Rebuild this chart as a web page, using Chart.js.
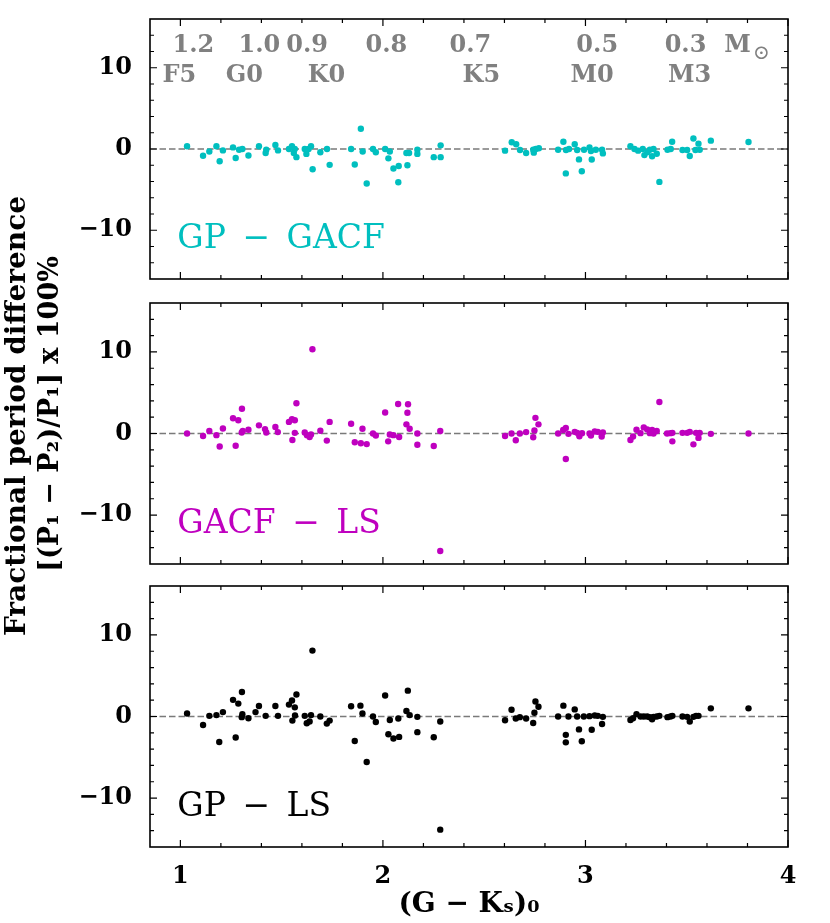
<!DOCTYPE html>
<html>
<head>
<meta charset="utf-8">
<script src="https://cdn.jsdelivr.net/npm/chart.js@4.4.1/dist/chart.umd.min.js"></script>
<style>
html, body { margin: 0; padding: 0; background: #fff; }
#wrap { position: relative; width: 830px; height: 923px; }
#wrap canvas { position: absolute; left: 0; top: 0; }
</style>
</head>
<body>
<div id="wrap">
  <canvas id="p1" width="830" height="923"></canvas>
  <canvas id="p2" width="830" height="923"></canvas>
  <canvas id="p3" width="830" height="923"></canvas>
</div>
<script>
var X_MIN = 0.85, X_MAX = 4.0
var Y_MIN = -16, Y_MAX = 16
var xTicks = [1, 2, 3, 4]
var xMinorTicks = [1.2, 1.4, 1.6, 1.8, 2.2, 2.4, 2.6, 2.8, 3.2, 3.4, 3.6, 3.8]
var yTicks = [-10, 0, 10]
var yMinorTicks = [-14, -12, -8, -6, -4, -2, 2, 4, 6, 8, 12, 14]

// GP - GACF
var gpGacfX = [1.033, 1.112, 1.143, 1.178, 1.194, 1.21, 1.26, 1.273, 1.29, 1.306,
  1.336, 1.388, 1.421, 1.424, 1.469, 1.482, 1.536, 1.551, 1.565, 1.56,
  1.573, 1.614, 1.622, 1.633, 1.645, 1.653, 1.691, 1.724, 1.737, 1.843,
  1.861, 1.891, 1.9, 1.92, 1.951, 1.965, 2.011, 2.027, 2.034, 2.052,
  2.078, 2.076, 2.116, 2.129, 2.121, 2.17, 2.17, 2.251, 2.285, 2.285,
  2.603, 2.636, 2.658, 2.677, 2.707, 2.742, 2.745, 2.755, 2.77, 2.865,
  2.891, 2.904, 2.919, 2.903, 2.947, 2.959, 2.968, 2.982, 2.993, 3.02,
  3.027, 3.031, 3.051, 3.082, 3.086, 3.222, 3.242, 3.26, 3.283, 3.291,
  3.306, 3.318, 3.329, 3.336, 3.352, 3.365, 3.405, 3.421, 3.428, 3.479,
  3.502, 3.515, 3.533, 3.543, 3.558, 3.564, 3.619, 3.805]
var gpGacfY = [0.33, -0.83, -0.3, 0.33, -1.5, -0.17, 0.2, -1.1, -0.1, 0,
  -0.8, 0.33, -0.5, -0.1, 0.5, -0.17, 0, 0.33, 0, -0.5,
  -1.0, 0, -0.6, 0, 0.33, -2.5, -0.4, 0, -1.95, 0,
  -1.9, 2.5, -0.3, -4.25, 0, -0.4, 0, -1.15, -0.3, -2.4,
  -2.1, -4.1, -0.5, -0.5, -2.0, -0.1, -0.6, -1.0, -1.0, 0.45,
  -0.2, 0.83, 0.58, -0.12, -0.5, -0.1, -0.45, 0, 0.1, -0.1,
  0.9, -0.12, 0, -3.0, 0.58, -0.12, -1.28, -2.73, -0.1, 0.2,
  -0.25, -1.3, -0.1, -0.1, -0.54, 0.33, 0, -0.2, 0, -0.75,
  -0.4, -0.1, -0.9, 0, -0.58, -4.05, -0.1, 0, 0.9, -0.12,
  -0.12, -0.87, 1.3, -0.12, 0.66, -0.1, 1.03, 0.87]

// GACF - LS
var gacfLsX = [1.033, 1.112, 1.143, 1.178, 1.194, 1.21, 1.26, 1.273, 1.286, 1.304,
  1.303, 1.308, 1.336, 1.388, 1.418, 1.424, 1.469, 1.481, 1.536, 1.551,
  1.565, 1.553, 1.565, 1.573, 1.614, 1.625, 1.638, 1.645, 1.652, 1.691,
  1.723, 1.737, 1.843, 1.861, 1.891, 1.899, 1.92, 1.951, 1.965, 2.011,
  2.026, 2.034, 2.052, 2.075, 2.08, 2.116, 2.121, 2.124, 2.132, 2.17,
  2.17, 2.251, 2.283, 2.283,
  2.603, 2.635, 2.656, 2.676, 2.707, 2.742, 2.748, 2.753, 2.768, 2.865,
  2.89, 2.903, 2.903, 2.916, 2.947, 2.959, 2.97, 2.983, 3.02, 3.027,
  3.046, 3.061, 3.08, 3.086, 3.222, 3.235, 3.252, 3.272, 3.288, 3.305,
  3.318, 3.329, 3.336, 3.352, 3.365, 3.403, 3.42, 3.429, 3.429, 3.479,
  3.502, 3.515, 3.533, 3.546, 3.558, 3.564, 3.619, 3.805]
var gacfLsY = [0, -0.3, 0.3, -0.2, -1.6, 0.62, 1.87, -1.5, 1.62, 3.04,
  0.12, 0.3, 0.46, 1.0, 0.54, 0.12, 0.8, 0.17, 1.42, 1.75,
  1.62, -0.8, 0.08, 3.7, 0.12, -0.2, -0.42, -0.12, 10.33, 0.33,
  -0.87, 1.42, 1.2, -1.08, -1.2, 0.58, -1.3, 0, -0.25, 2.58,
  -0.96, -0.12, -0.2, 3.62, -0.42, 1.12, 2.54, 3.58, 0.58, 0,
  -1.38, -1.54, 0.3, -14.4,
  -0.3, 0, -0.83, 0, 0.17, -0.46, 0.38, 1.92, 1.12, 0,
  0.42, 0.67, -3.12, -0.04, 0.2, 0.08, -0.33, 0.04, 0, -0.25,
  0.25, 0.2, -0.37, 0.12, -0.8, -0.37, 0.46, 0.04, 0.75, 0.5,
  0.04, 0.42, 0, 0.3, 3.87, 0, 0.04, -0.96, 0.08, 0.08,
  0.08, 0.2, -1.33, 0.08, -0.54, 0.08, -0.04, 0]

// GP - LS
var gpLsX = [1.033, 1.112, 1.143, 1.178, 1.192, 1.21, 1.26, 1.273, 1.286, 1.304,
  1.303, 1.306, 1.336, 1.371, 1.388, 1.421, 1.469, 1.482, 1.536, 1.551,
  1.565, 1.553, 1.566, 1.573, 1.614, 1.624, 1.638, 1.645, 1.652, 1.691,
  1.723, 1.737, 1.843, 1.861, 1.889, 1.899, 1.92, 1.951, 1.965, 2.011,
  2.027, 2.034, 2.052, 2.076, 2.08, 2.116, 2.123, 2.132, 2.17, 2.17,
  2.251, 2.283, 2.283,
  2.603, 2.635, 2.656, 2.676, 2.707, 2.742, 2.748, 2.753, 2.768, 2.865,
  2.891, 2.903, 2.903, 2.916, 2.947, 2.959, 2.968, 2.982, 2.992, 3.02,
  3.031, 3.046, 3.061, 3.082, 3.086, 3.222, 3.235, 3.252, 3.272, 3.288,
  3.305, 3.318, 3.329, 3.336, 3.352, 3.365, 3.405, 3.42, 3.429, 3.479,
  3.502, 3.515, 3.533, 3.546, 3.558, 3.619, 3.805]
var gpLsY = [0.37, -1.04, 0.08, 0.17, -3.12, 0.54, 2.04, -2.58, 1.58, 3.0,
  -0.08, 0.29, -0.21, 0.54, 1.29, 0.08, 1.29, 0.08, 1.46, 1.96,
  1.12, -0.5, 0.12, 2.7, 0.08, -0.83, -0.62, 0.17, 8.08, 0,
  -0.87, -0.5, 1.25, -3.0, 1.33, 0.37, -5.58, 0, -0.67, 2.58,
  -2.17, -0.42, -2.7, -0.25, -2.5, 0.67, 3.17, 0.17, -0.04, -1.92,
  -2.54, -0.62, -13.87,
  -0.46, 0.83, -0.25, -0.08, -0.25, -0.79, 0.46, 1.83, 1.2, 0,
  1.33, -2.25, -3.17, 0, 0.87, 0, -1.58, -3.04, 0, 0.04,
  -1.62, 0.12, 0.08, -0.92, -0.04, -0.42, -0.21, 0.29, 0, 0,
  0, -0.08, -0.33, -0.04, 0, 0.08, -0.08, 0, 0.08, 0,
  -0.04, -0.62, -0.04, 0.08, 0.08, 1.0, 1.0]

// mass and spectral type labels along the top of the first panel
var massLabels = ['1.2', '1.0', '0.9', '0.8', '0.7', '0.5', '0.3', 'M']
var massX = [1.064, 1.39, 1.626, 2.017, 2.432, 3.058, 3.494, 3.751]
var sptLabels = ['F5', 'G0', 'K0', 'K5', 'M0', 'M3']
var sptX = [0.995, 1.316, 1.721, 2.486, 3.033, 3.514]

var FONT = '"DejaVu Serif", serif'
var W = 830, H = 923
var PLOT_LEFT = 150, PLOT_RIGHT = 788

var framePlugin = {
  id: 'frame',
  afterDatasetsDraw: function (chart) {
    var a = chart.chartArea, ctx = chart.ctx
    var sx = chart.scales.x, sy = chart.scales.y
    ctx.save()
    ctx.strokeStyle = '#000'
    ctx.lineWidth = 1.2
    ctx.beginPath()
    function tx(v, len) {
      var p = sx.getPixelForValue(v)
      ctx.moveTo(p, a.bottom); ctx.lineTo(p, a.bottom - len)
      ctx.moveTo(p, a.top); ctx.lineTo(p, a.top + len)
    }
    function ty(v, len) {
      var p = sy.getPixelForValue(v)
      ctx.moveTo(a.left, p); ctx.lineTo(a.left + len, p)
      ctx.moveTo(a.right, p); ctx.lineTo(a.right - len, p)
    }
    xTicks.forEach(function (v) { tx(v, 7) })
    xMinorTicks.forEach(function (v) { tx(v, 4) })
    yTicks.forEach(function (v) { ty(v, 7) })
    yMinorTicks.forEach(function (v) { ty(v, 4) })
    ctx.stroke()
    ctx.lineWidth = 1.6
    ctx.strokeRect(a.left, a.top, a.right - a.left, a.bottom - a.top)
    ctx.restore()
  }
}

var notesPlugin = {
  id: 'notes',
  afterDraw: function (chart, args, opts) {
    var ctx = chart.ctx
    var sx = chart.scales.x, sy = chart.scales.y
    ctx.save()
    ;(opts.items || []).forEach(function (n) {
      ctx.font = n.font
      ctx.fillStyle = n.color
      ctx.textAlign = n.align || 'center'
      ctx.textBaseline = 'alphabetic'
      ctx.fillText(n.text, sx.getPixelForValue(n.x), sy.getPixelForValue(n.y))
    })
    ;(opts.yTitle || []).forEach(function (t) {
      ctx.save()
      ctx.translate(t.px, t.py)
      ctx.rotate(-Math.PI / 2)
      ctx.font = t.font
      ctx.fillStyle = '#000'
      ctx.textAlign = 'center'
      ctx.textBaseline = 'middle'
      ctx.fillText(t.text, 0, 0)
      ctx.restore()
    })
    ctx.restore()
  }
}

function minusFmt(v) {
  return v < 0 ? '\u2212' + Math.abs(v) : String(v)
}

function makePanel(id, xs, ys, color, top, bottom, isBottom, notes) {
  var pts = xs.map(function (x, i) { return { x: x, y: ys[i] } })
  var zero = [{ x: X_MIN, y: 0 }, { x: X_MAX, y: 0 }]
  var ctx = document.getElementById(id).getContext('2d')
  return new Chart(ctx, {
    type: 'scatter',
    data: {
      datasets: [{
        type: 'line',
        data: zero,
        borderColor: '#7a7a7a',
        borderWidth: 1.5,
        borderDash: [6.5, 3],
        pointRadius: 0,
        order: 2
      }, {
        data: pts,
        backgroundColor: color,
        borderWidth: 0,
        pointRadius: 3.2,
        order: 1
      }]
    },
    options: {
      responsive: false,
      animation: false,
      events: [],
      layout: {
        padding: { left: 0, right: W - PLOT_RIGHT, top: top, bottom: isBottom ? 0 : H - bottom }
      },
      plugins: {
        legend: { display: false },
        tooltip: { enabled: false },
        notes: notes
      },
      scales: {
        x: {
          type: 'linear',
          min: X_MIN,
          max: X_MAX,
          afterBuildTicks: function (s) { s.ticks = xTicks.map(function (v) { return { value: v } }) },
          afterFit: function (s) {
            s.height = isBottom ? H - bottom : 0
            s.paddingLeft = 0; s.paddingRight = 0
          },
          grid: { display: false },
          border: { display: false },
          ticks: {
            display: isBottom,
            color: '#000',
            padding: 7,
            maxRotation: 0,
            font: { family: FONT, size: 24, weight: 'bold' }
          },
          title: {
            display: isBottom,
            text: '(G \u2212 K\u209B)\u2080',
            color: '#000',
            padding: { top: 0, bottom: 1 },
            font: { family: FONT, size: 28, weight: 'bold' }
          }
        },
        y: {
          type: 'linear',
          min: Y_MIN,
          max: Y_MAX,
          afterBuildTicks: function (s) { s.ticks = yTicks.map(function (v) { return { value: v } }) },
          afterFit: function (s) {
            s.width = PLOT_LEFT
            s.paddingTop = 0; s.paddingBottom = 0
          },
          grid: { display: false },
          border: { display: false },
          ticks: {
            color: '#000',
            padding: 10,
            callback: minusFmt,
            font: { family: FONT, size: 24, weight: 'bold' }
          }
        }
      }
    },
    plugins: [framePlugin, notesPlugin]
  })
}

var GRAY = '#808080'
var labelFont = 'bold 24px ' + FONT
var panelFont = '33px ' + FONT

var topNotes = []
massLabels.forEach(function (t, i) {
  topNotes.push({ text: t, x: massX[i], y: 12.0, color: GRAY, font: labelFont })
})
topNotes.push({ text: '\u2299', x: 3.869, y: 11.1, color: GRAY, font: '20px ' + FONT })
sptLabels.forEach(function (t, i) {
  topNotes.push({ text: t, x: sptX[i], y: 8.25, color: GRAY, font: labelFont })
})
topNotes.push({ text: 'GP\u2002\u2212\u2002GACF', x: 0.985, y: -12.15, color: '#00bfbf', font: panelFont, align: 'left' })

makePanel('p1', gpGacfX, gpGacfY, '#00bfbf', 19, 279, false, { items: topNotes })

makePanel('p2', gacfLsX, gacfLsY, '#bf00bf', 303, 564, false, {
  items: [{ text: 'GACF\u2002\u2212\u2002LS', x: 0.985, y: -12.15, color: '#bf00bf', font: panelFont, align: 'left' }],
  yTitle: [
    { text: 'Fractional period difference', px: 18, py: 416, font: 'bold 28px ' + FONT },
    { text: '[(P\u2081 \u2212 P\u2082)/P\u2081] x 100%', px: 51, py: 414, font: 'bold 27px ' + FONT }
  ]
})

makePanel('p3', gpLsX, gpLsY, '#000000', 586, 847, true, {
  items: [{ text: 'GP\u2002\u2212\u2002LS', x: 0.985, y: -12.15, color: '#000', font: panelFont, align: 'left' }]
})
</script>
</body>
</html>
